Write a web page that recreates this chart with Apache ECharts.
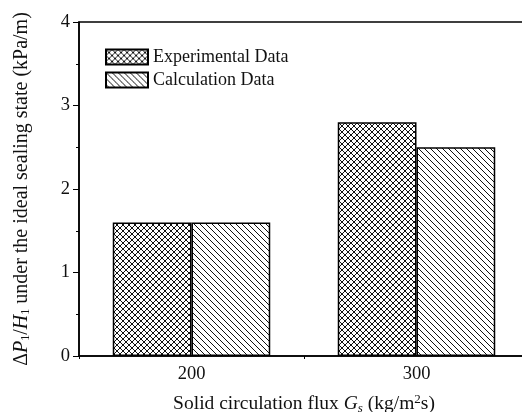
<!DOCTYPE html>
<html>
<head>
<meta charset="utf-8">
<script src="https://cdn.jsdelivr.net/npm/echarts@6/dist/echarts.min.js"></script>
<style>
  html, body { margin: 0; padding: 0; background: #fff; }
  #chart { width: 522px; height: 412px; }
</style>
</head>
<body>
<div id="chart"></div>
<script>
// Solid circulation flux categories and pressure-gradient values (kPa/m)
const categories = ['200', '300'];
const experimentalData = [1.6, 2.8];
const calculationData = [1.6, 2.5];
const seriesNames = ['Experimental Data', 'Calculation Data'];

const FONT = '"Liberation Serif", "Times New Roman", serif';

// Build a repeating hatch tile on a small canvas
function makeHatch(size, cross) {
  const c = document.createElement('canvas');
  c.width = size; c.height = size;
  const g = c.getContext('2d');
  g.fillStyle = '#fff';
  g.fillRect(0, 0, size, size);
  g.strokeStyle = '#111';
  g.lineWidth = 1;
  g.beginPath();
  // "\" direction lines
  for (let k = -1; k <= 1; k++) {
    g.moveTo(k * size - 1, -1);
    g.lineTo(k * size + size + 1, size + 1);
  }
  if (cross) {
    // "/" direction lines
    for (let k = -1; k <= 1; k++) {
      g.moveTo(k * size - 1, size + 1);
      g.lineTo(k * size + size + 1, -1);
    }
  }
  g.stroke();
  return c;
}

const crossPattern = { image: makeHatch(6, true), repeat: 'repeat' };
const diagPattern = { image: makeHatch(6, false), repeat: 'repeat' };

const chart = echarts.init(document.getElementById('chart'), null, { renderer: 'canvas' });

chart.setOption({
  animation: false,
  backgroundColor: '#fff',
  grid: {
    left: 79, top: 22, width: 450, height: 334,
    containLabel: false,
    outerBoundsMode: 'none',
    show: true, borderColor: '#000', borderWidth: 1.5, backgroundColor: 'transparent'
  },
  legend: {
    orient: 'vertical',
    left: 105, top: 48,
    padding: 0,
    itemWidth: 42, itemHeight: 15, itemGap: 5,
    icon: 'rect',
    textStyle: { fontFamily: FONT, fontSize: 18, color: '#111', lineHeight: 17 },
    data: seriesNames
  },
  xAxis: {
    type: 'category',
    data: categories,
    axisLine: { lineStyle: { color: '#000', width: 1.5 } },
    axisTick: { show: true, length: 3, lineStyle: { color: '#000', width: 1 } },
    axisLabel: { fontFamily: FONT, fontSize: 18.5, color: '#111', margin: 9 },
    nameLocation: 'middle',
    nameGap: 37,
    name: '{n|Solid circulation flux }{i|G}{sub|s}{n| (kg/m}{sup|2}{n|s)}',
    nameTextStyle: {
      rich: {
        n: { fontFamily: FONT, fontSize: 19.5, color: '#111' },
        i: { fontFamily: FONT, fontSize: 19.5, color: '#111', fontStyle: 'italic' },
        sub: { fontFamily: FONT, fontSize: 13, color: '#111', fontStyle: 'italic', verticalAlign: 'bottom', padding: [6, 0, 0, 0] },
        sup: { fontFamily: FONT, fontSize: 13, color: '#111', verticalAlign: 'top', padding: [0, 0, 9, 0] }
      }
    }
  },
  yAxis: {
    type: 'value',
    min: 0, max: 4, interval: 1,
    splitLine: { show: false },
    axisLine: { show: true, lineStyle: { color: '#000', width: 1.5 } },
    axisTick: { show: true, length: 6, lineStyle: { color: '#000', width: 1 } },
    minorTick: { show: true, splitNumber: 2, length: 3, lineStyle: { color: '#000', width: 1 } },
    axisLabel: { fontFamily: FONT, fontSize: 18.5, color: '#111', margin: 9 },
    nameLocation: 'middle',
    nameGap: 47,
    nameRotate: 90,
    name: '{n|Δ}{i|P}{sub|1}{n|/}{i|H}{sub|1}{n| under the ideal sealing state (kPa/m)}',
    nameTextStyle: {
      rich: {
        n: { fontFamily: FONT, fontSize: 20, color: '#111' },
        i: { fontFamily: FONT, fontSize: 20, color: '#111', fontStyle: 'italic' },
        sub: { fontFamily: FONT, fontSize: 12, color: '#111', verticalAlign: 'bottom', padding: [7, 0, 0, 0] }
      }
    }
  },
  series: [
    {
      name: seriesNames[0],
      type: 'bar',
      data: experimentalData,
      barGap: '0%',
      barCategoryGap: '30%',
      itemStyle: { color: crossPattern, borderColor: '#000', borderWidth: 1.5 }
    },
    {
      name: seriesNames[1],
      type: 'bar',
      data: calculationData,
      barGap: '0%',
      barCategoryGap: '30%',
      itemStyle: { color: diagPattern, borderColor: '#000', borderWidth: 1.5 }
    }
  ]
});
</script>
</body>
</html>
